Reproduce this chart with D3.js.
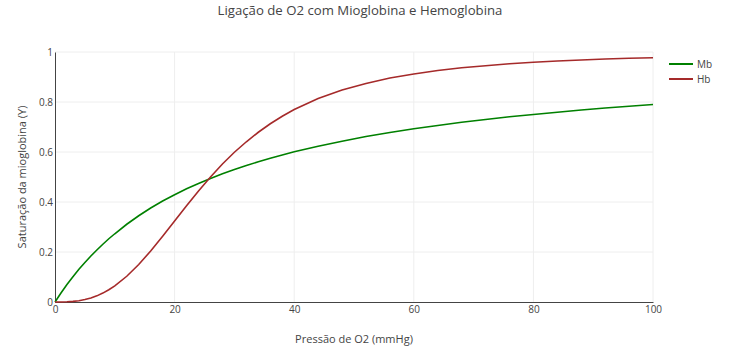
<!DOCTYPE html>
<html><head><meta charset="utf-8">
<script src="https://cdn.jsdelivr.net/npm/d3@7"></script>
<style>body{margin:0;background:#fff}svg{font-family:"Open Sans",sans-serif}</style>
</head><body>
<svg id="c" width="734" height="361"></svg>
<script>
const pressure = [0,1,2,3,4,5,6,7,8,9,10,12,14,16,18,20,22,24,26,28,30,32,34,36,38,40,44,48,52,56,60,64,68,72,76,80,84,88,92,96,100];
const mbValues = [0,0.036,0.070,0.101,0.131,0.158,0.184,0.208,0.231,0.253,0.273,0.311,0.345,0.376,0.404,0.429,0.453,0.474,0.494,0.513,0.530,0.546,0.561,0.575,0.588,0.601,0.623,0.643,0.662,0.678,0.693,0.706,0.719,0.730,0.741,0.750,0.759,0.768,0.776,0.783,0.790];
const hbValues = [0,0.0001,0.0008,0.0024,0.0053,0.0097,0.0162,0.0245,0.0356,0.049,0.0645,0.103,0.150,0.204,0.263,0.324,0.385,0.444,0.500,0.552,0.599,0.641,0.679,0.713,0.743,0.770,0.814,0.848,0.874,0.896,0.912,0.926,0.937,0.945,0.953,0.959,0.964,0.968,0.972,0.975,0.977];
const xTicks = [0,20,40,60,80,100];
const yTicks = [0,0.2,0.4,0.6,0.8,1];
const seriesNames = ["Mb","Hb"];
const seriesColors = ["#008000","#a52a2a"];

const svg = d3.select("#c");
const L=55,R=653,T=52,B=302;
const x = d3.scaleLinear().domain([0,100]).range([L,R]);
const y = d3.scaleLinear().domain([0,1]).range([B,T]);
const txt="#444";

const g = svg.append("g");
g.selectAll(".vg").data(xTicks.filter(d=>d>0)).join("line")
 .attr("x1",d=>x(d)).attr("x2",d=>x(d)).attr("y1",T).attr("y2",B).attr("stroke","#eee");
g.selectAll(".hg").data(yTicks.filter(d=>d>0)).join("line")
 .attr("x1",L).attr("x2",R).attr("y1",d=>y(d)).attr("y2",d=>y(d)).attr("stroke","#eee");

const xa = svg.append("g").attr("transform",`translate(0,${B})`)
 .call(d3.axisBottom(x).tickValues(xTicks).tickSize(0).tickPadding(4).tickFormat(d3.format("d")));
const ya = svg.append("g").attr("transform",`translate(${L},0)`)
 .call(d3.axisLeft(y).tickValues(yTicks).tickSize(0).tickPadding(2).tickFormat(d=>d===0?"0":d===1?"1":d3.format(".1f")(d)));
[xa,ya].forEach(a=>{a.select(".domain").attr("stroke","#444").attr("stroke-width",1);
 a.selectAll("text").attr("fill",txt).style("font-size","10px").style("font-family","'Open Sans',sans-serif");});

const data=[mbValues,hbValues];
const line=d3.line().x((d,i)=>x(pressure[i])).y(d=>y(d));
data.forEach((vals,k)=>{
 svg.append("path").datum(vals).attr("d",line).attr("fill","none")
  .attr("stroke",seriesColors[k]).attr("stroke-width",1.6);
});

svg.append("text").attr("x",360).attr("y",15).attr("text-anchor","middle")
 .attr("fill",txt).style("font-size","13.2px").text("Ligação de O2 com Mioglobina e Hemoglobina");
svg.append("text").attr("x",354).attr("y",343).attr("text-anchor","middle")
 .attr("fill",txt).style("font-size","11px").text("Pressão de O2 (mmHg)");
svg.append("text").attr("transform",`translate(26,${(T+B)/2}) rotate(-90)`).attr("text-anchor","middle")
 .attr("fill",txt).style("font-size","11px").text("Saturação da mioglobina (Y)");

const lg=svg.append("g");
seriesNames.forEach((n,k)=>{
 const yy=64+k*15;
 lg.append("line").attr("x1",669).attr("x2",693).attr("y1",yy).attr("y2",yy)
  .attr("stroke",seriesColors[k]).attr("stroke-width",2);
 lg.append("text").attr("x",697).attr("y",yy+3.5).attr("fill",txt).style("font-size","10px").text(n);
});
</script>
</body></html>
